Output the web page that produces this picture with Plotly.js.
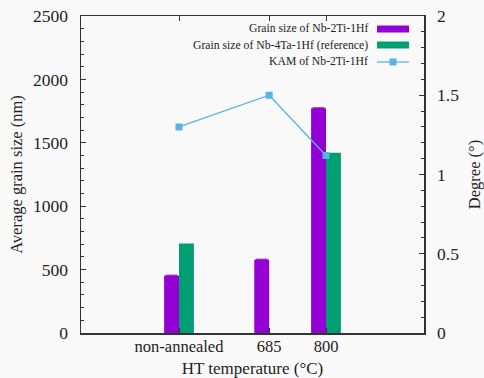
<!DOCTYPE html>
<html>
<head>
<meta charset="utf-8">
<script src="https://cdn.plot.ly/plotly-3.0.1.min.js"></script>
<style>
html,body{margin:0;padding:0;background:#f9f9f9;}
#chart{width:484px;height:378px;}
</style>
</head>
<body>
<div id="chart"></div>
<script>
// Data
const categories = ["non-annealed", "685", "800"];
const catPositions = [1.0, 1.92, 2.5];
const grainNb2Ti1Hf = [452, 578, 1772];
const grainNb4Ta1Hf = [705, null, 1422];
const kamNb2Ti1Hf = [1.3, 1.5, 1.12];
const seriesNames = ["Grain size of Nb-2Ti-1Hf", "Grain size of Nb-4Ta-1Hf (reference)", "KAM of Nb-2Ti-1Hf"];

const purple = "#9400D3", green = "#009E73", blue = "#56B4E9";
const FONT = '"Liberation Serif", serif';
const barW = 0.152;

const traces = [
  {type: "bar", x: catPositions, y: grainNb2Ti1Hf, width: barW, offset: -barW,
   marker: {color: purple, line: {width: 0}}, name: seriesNames[0],
   error_y: {type: "constant", value: 4, color: purple, thickness: 1, width: 6}},
  {type: "bar", x: catPositions, y: grainNb4Ta1Hf, width: barW, offset: 0,
   marker: {color: green, line: {width: 0}}, name: seriesNames[1]},
  {type: "scatter", mode: "lines+markers", x: catPositions, y: kamNb2Ti1Hf, yaxis: "y2",
   line: {color: blue, width: 1.3}, marker: {color: blue, symbol: "square", size: 7},
   name: seriesNames[2]}
];

const axisCol = "#333";
const layout = {
  width: 484, height: 378,
  margin: {l: 81, r: 60, t: 16, b: 45},
  paper_bgcolor: "#f9f9f9", plot_bgcolor: "#f9f9f9",
  showlegend: false,
  font: {family: FONT, color: "#222", size: 16.5},
  xaxis: {
    range: [0, 3.5], tickvals: catPositions, ticktext: categories,
    ticks: "inside", ticklen: 5, tickcolor: axisCol, tickwidth: 1,
    showline: true, linecolor: axisCol, linewidth: 1.5, mirror: "ticks",
    showgrid: false, zeroline: false, ticklabelstandoff: -2,
    tickfont: {family: FONT, size: 16.5},
    title: {text: "HT temperature (°C)", font: {family: FONT, size: 17}, standoff: 8}
  },
  yaxis: {
    range: [0, 2500], dtick: 500, ticks: "inside", ticklen: 5, tickcolor: axisCol, tickwidth: 1,
    minor: {dtick: 100, ticks: "inside", ticklen: 3, tickcolor: axisCol},
    showline: true, linecolor: axisCol, linewidth: 1.5,
    showgrid: false, zeroline: false, ticklabelstandoff: 8,
    tickfont: {family: FONT, size: 17.5},
    title: {text: "Average grain size (nm)", font: {family: FONT, size: 16.5}, standoff: 6}
  },
  yaxis2: {
    overlaying: "y", side: "right", range: [0, 2], dtick: 0.5,
    ticks: "inside", ticklen: 5, tickcolor: axisCol, tickwidth: 1,
    minor: {dtick: 0.1, ticks: "inside", ticklen: 3, tickcolor: axisCol},
    showline: true, linecolor: axisCol, linewidth: 1.5,
    showgrid: false, zeroline: false, ticklabelstandoff: 8,
    tickfont: {family: FONT, size: 17.5},
    title: {text: "Degree (°)", font: {family: FONT, size: 16.5}, standoff: 12}
  },
  annotations: [],
  shapes: []
};

// Custom legend (text right-aligned, sample on the right) in pixel-derived paper coords
const plotW = 484 - 81 - 60, plotH = 378 - 16 - 45;
const px = x => (x - 81) / plotW;
const py = y => 1 - (y - 16) / plotH;
const rowsY = [29, 45, 62];
seriesNames.forEach((n, i) => {
  layout.annotations.push({xref: "paper", yref: "paper", x: px(370), y: py(rowsY[i]),
    xanchor: "right", yanchor: "middle", text: n, showarrow: false,
    font: {family: FONT, size: 11.7, color: "#222"}});
});
layout.shapes.push({type: "rect", xref: "paper", yref: "paper", x0: px(377), x1: px(409),
  y0: py(rowsY[0] - 3.5), y1: py(rowsY[0] + 3.5), fillcolor: purple, line: {width: 0}});
layout.shapes.push({type: "rect", xref: "paper", yref: "paper", x0: px(377), x1: px(409),
  y0: py(rowsY[1] - 3.5), y1: py(rowsY[1] + 3.5), fillcolor: green, line: {width: 0}});
layout.shapes.push({type: "line", xref: "paper", yref: "paper", x0: px(377), x1: px(409),
  y0: py(rowsY[2]), y1: py(rowsY[2]), line: {color: blue, width: 1.3}});
layout.shapes.push({type: "rect", xref: "paper", yref: "paper", x0: px(389.5), x1: px(396.5),
  y0: py(rowsY[2] - 3.5), y1: py(rowsY[2] + 3.5), fillcolor: blue, line: {width: 0}});

Plotly.newPlot("chart", traces, layout, {displayModeBar: false, staticPlot: true});
</script>
</body>
</html>
